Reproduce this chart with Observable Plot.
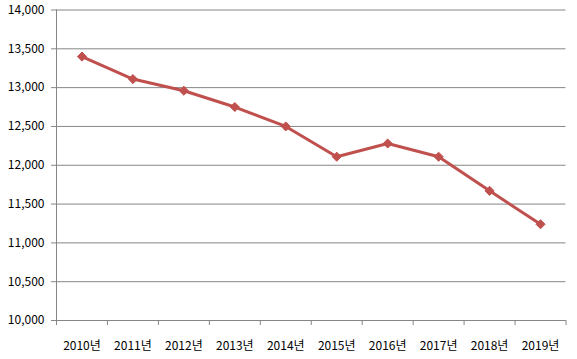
<!DOCTYPE html>
<html>
<head>
<meta charset="utf-8">
<script src="https://cdn.jsdelivr.net/npm/d3@7"></script>
<script src="https://cdn.jsdelivr.net/npm/@observablehq/plot@0.6"></script>
<style>
  html, body { margin: 0; padding: 0; background: #fff; }
  #chart svg { display: block; }
</style>
</head>
<body>
<div id="chart"></div>
<script>
const years = ["2010년","2011년","2012년","2013년","2014년","2015년","2016년","2017년","2018년","2019년"];
const values = [13400, 13110, 12960, 12750, 12500, 12110, 12280, 12110, 11670, 11240];
const yTicks = [10000, 10500, 11000, 11500, 12000, 12500, 13000, 13500, 14000];

const data = years.map((year, i) => ({ year, i, pos: i + 0.5, value: values[i] }));
const boundaries = d3.range(years.length + 1);
const centers = data.map(d => d.pos);

const font = "'Noto Sans CJK KR', 'Noto Sans', sans-serif";
const gridColor = "#868686";
const lineColor = "#C0504D";

const chart = Plot.plot({
  width: 577,
  height: 359,
  marginLeft: 56,
  marginRight: 11.5,
  marginTop: 9.5,
  marginBottom: 39,
  style: { fontFamily: font, fontSize: "12px", color: "#000", background: "#fff", overflow: "visible" },
  x: { type: "linear", domain: [0, years.length] },
  y: { domain: [10000, 14000] },
  marks: [
    Plot.gridY(yTicks, { stroke: gridColor, strokeOpacity: 1, strokeWidth: 1 }),
    Plot.ruleX([0], { stroke: gridColor, strokeWidth: 1 }),
    Plot.ruleY([10000], { stroke: gridColor, strokeWidth: 1 }),
    Plot.axisY(yTicks, { tickFormat: d3.format(","), tickSize: 5, tickPadding: 7, stroke: gridColor, fill: "#000", label: null, fontSize: 12 }),
    Plot.axisX(boundaries, { tickFormat: () => "", tickSize: 5, stroke: gridColor, label: null }),
    Plot.axisX(centers, { tickFormat: d => years[Math.round(d - 0.5)], tickSize: 0, tickPadding: 21, fill: "#000", label: null, fontSize: 12 }),
    Plot.line(data, { x: "pos", y: "value", stroke: lineColor, strokeWidth: 3 }),
    Plot.dot(data, { x: "pos", y: "value", symbol: "diamond2", r: 4.1, fill: lineColor, stroke: lineColor, strokeWidth: 1 })
  ]
});
document.getElementById("chart").appendChild(chart);
</script>
</body>
</html>
